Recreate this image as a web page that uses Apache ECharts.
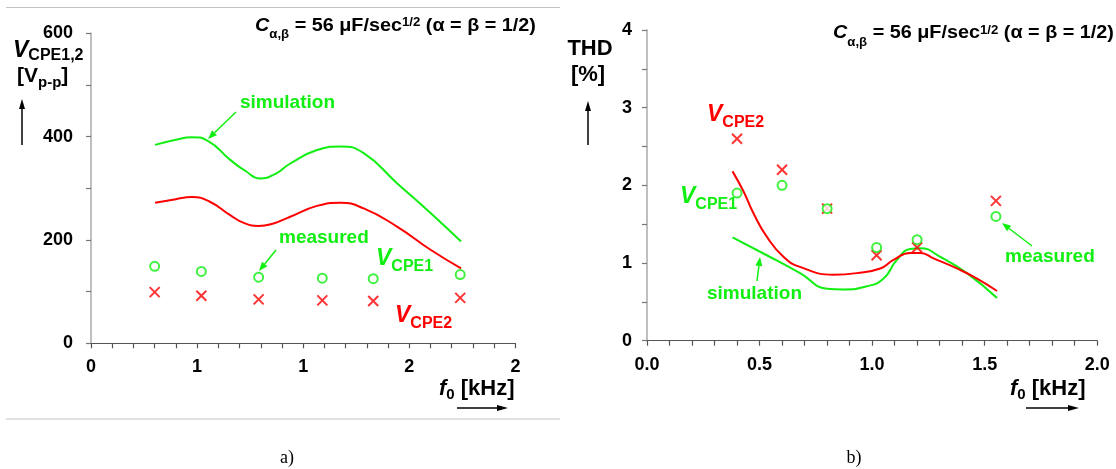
<!DOCTYPE html>
<html>
<head>
<meta charset="utf-8">
<script src="https://cdn.jsdelivr.net/npm/echarts@6/dist/echarts.min.js"></script>
<style>
html,body{margin:0;padding:0;background:#fff;}
#c{width:1116px;height:469px;}
</style>
</head>
<body>
<div id="c"></div>
<script>
// ---------- data (a) ----------
const leftMeasX = [0.30, 0.52, 0.79, 1.09, 1.33, 1.74];
const leftVcpe1 = [149, 139, 128, 126, 125, 133];
const leftVcpe2 = [99, 92, 85, 83, 82, 88];
const leftSim1X = [0.302, 0.40, 0.475, 0.55, 0.656, 0.73, 0.797, 0.87, 0.939, 1.065, 1.175, 1.285, 1.442, 1.600, 1.744];
const leftSim1Y = [384, 394, 399, 392, 355, 333, 319, 328, 348, 374, 381, 368, 310, 252, 197];
const leftSim2X = [0.302, 0.40, 0.475, 0.56, 0.656, 0.72, 0.789, 0.86, 0.939, 1.065, 1.175, 1.285, 1.442, 1.600, 1.744];
const leftSim2Y = [272, 279, 283, 274, 248, 233, 227, 232, 245, 266, 272, 261, 226, 181, 145];
const leftXTickLabels = ['0', '1', '1', '2', '2'];

// ---------- data (b) ----------
const rightMeasX = [0.40, 0.60, 0.80, 1.02, 1.20, 1.55];
const thdVcpe1 = [1.9, 2.0, 1.7, 1.2, 1.3, 1.6];
const thdVcpe2 = [2.6, 2.2, 1.7, 1.1, 1.2, 1.8];
const rightSim1X = [0.380, 0.532, 0.680, 0.799, 0.873, 0.977, 1.051, 1.110, 1.169, 1.214, 1.303, 1.421, 1.555];
const rightSim1Y = [1.33, 1.10, 0.87, 0.67, 0.66, 0.70, 0.80, 1.04, 1.18, 1.19, 1.08, 0.87, 0.55];
const rightSim2X = [0.380, 0.429, 0.473, 0.532, 0.606, 0.680, 0.828, 0.932, 1.036, 1.095, 1.169, 1.214, 1.273, 1.377, 1.466, 1.555];
const rightSim2Y = [2.18, 1.92, 1.64, 1.34, 1.08, 0.95, 0.85, 0.87, 0.93, 1.04, 1.13, 1.13, 1.06, 0.93, 0.80, 0.64];
const rightXTickLabels = ['0.0', '0.5', '1.0', '1.5', '2.0'];

// ---------- style ----------
const F = '"Liberation Sans", Arial, sans-serif';
const GREEN = '#11ee11';
const RED = '#ff0000';
const CROSS = 'path://M0,0L10,10M10,0L0,10';

const zip = (xs, ys) => xs.map((x, i) => [x, ys[i]]);

function axisX(grid, labels) {
  return {
    gridIndex: grid, type: 'value', min: 0, max: 2, interval: 0.5,
    axisLine: { show: true, onZero: false, lineStyle: { color: '#555', width: 1.2 } },
    axisTick: { show: true, length: 5, lineStyle: { color: '#555', width: 1.2 } },
    minorTick: { show: true, splitNumber: 5, length: 5, lineStyle: { color: '#555', width: 1.2 } },
    splitLine: { show: false }, minorSplitLine: { show: false },
    axisLabel: {
      formatter: v => labels[Math.round(v / 0.5)],
      fontFamily: F, fontWeight: 'bold', fontSize: 18, color: '#000', margin: 15
    }
  };
}
function axisY(grid, max, interval, margin) {
  return {
    gridIndex: grid, type: 'value', min: 0, max: max, interval: interval,
    axisLine: { show: true, onZero: false, lineStyle: { color: '#aaa', width: 1.5 } },
    axisTick: { show: true, length: 5, lineStyle: { color: '#777', width: 1.2 } },
    minorTick: { show: true, splitNumber: 2, length: 5, lineStyle: { color: '#777', width: 1.2 } },
    splitLine: { show: false }, minorSplitLine: { show: false },
    axisLabel: { fontFamily: F, fontWeight: 'bold', fontSize: 18, color: '#000', margin: margin }
  };
}
function simLine(name, xi, data, color) {
  return {
    name, type: 'line', xAxisIndex: xi, yAxisIndex: xi, data, smooth: 0.5,
    showSymbol: false, symbol: 'none', lineStyle: { color, width: 2 }, z: 2, silent: true
  };
}
function circles(name, xi, data) {
  return {
    name, type: 'scatter', xAxisIndex: xi, yAxisIndex: xi, data, symbol: 'emptyCircle', symbolSize: 9,
    itemStyle: { color: GREEN, borderColor: GREEN, borderWidth: 2 }, z: 4
  };
}
function crosses(name, xi, data) {
  return {
    name, type: 'scatter', xAxisIndex: xi, yAxisIndex: xi, data, symbol: CROSS, symbolSize: 10,
    itemStyle: { color: 'none', borderColor: RED, borderWidth: 2 }, z: 3
  };
}

// ---------- graphics helpers ----------
function arrow(x1, y1, x2, y2, color, len, w) {
  len = len || 9; w = w || 3;
  const dx = x2 - x1, dy = y2 - y1, L = Math.hypot(dx, dy);
  const ux = dx / L, uy = dy / L;
  const bx = x2 - ux * len, by = y2 - uy * len;
  return [
    { type: 'line', shape: { x1, y1, x2: bx, y2: by }, style: { stroke: color, lineWidth: 1.5 }, z: 10 },
    { type: 'polygon', shape: { points: [[x2, y2], [bx - uy * w, by + ux * w], [bx + uy * w, by - ux * w]] }, style: { fill: color }, z: 10 }
  ];
}
function tok(size, color, italic, extra) {
  return Object.assign({ fontSize: size, fontWeight: 'bold', fontStyle: italic ? 'italic' : 'normal', fontFamily: F, fill: color, color: color }, extra || {});
}
function rich(x, y, text, richDef, extra) {
  return Object.assign({ type: 'text', x, y, z: 10, style: { text, rich: richDef, fill: '#000', font: 'bold 16px ' + F, align: 'left', verticalAlign: 'top' } }, extra || {});
}
function plain(x, y, text, size, color, opts) {
  return { type: 'text', x, y, z: 10, style: Object.assign({ text, fill: color, fontSize: size, fontWeight: 'bold', fontFamily: F, align: 'left', verticalAlign: 'middle' }, opts || {}) };
}
// main token top-aligned: centre = top + size/2 ; sub bottom-aligned: centre = top + L - subSize/2
function titleText(x, y) {
  return rich(x, y, '{c|C}{s|α,β}{m| = 56 μF/sec}{p|1/2}{m| (α = β = 1/2)}', {
    c: tok(18, '#000', true, { lineHeight: 24, verticalAlign: 'top' }),
    m: tok(18, '#000', false, { lineHeight: 24, verticalAlign: 'top' }),
    s: tok(12, '#000', false, { verticalAlign: 'bottom' }),
    p: tok(12, '#000', false, { verticalAlign: 'top' })
  }, { scaleX: 1.1 });
}
function vcpe(x, y, sub, color) {
  return rich(x, y, '{v|V}{s|' + sub + '}', {
    v: tok(23, color, true, { lineHeight: 27.5, verticalAlign: 'top' }),
    s: tok(16, color, false, { verticalAlign: 'bottom' })
  });
}
function fLabel(x, y) {
  return rich(x, y, '{f|f}{s|0}{m| [kHz]}', {
    f: tok(22, '#000', true, { lineHeight: 24.5, verticalAlign: 'top' }),
    s: tok(15, '#000', false, { verticalAlign: 'bottom' }),
    m: tok(22, '#000', false, { lineHeight: 24.5, verticalAlign: 'top' })
  });
}

const graphics = [].concat(
  // separators of panel a
  [{ type: 'line', shape: { x1: 6, y1: 7.5, x2: 560, y2: 7.5 }, style: { stroke: '#c4c4c4', lineWidth: 1.2 } },
   { type: 'line', shape: { x1: 6, y1: 419, x2: 560, y2: 419 }, style: { stroke: '#c4c4c4', lineWidth: 1.2 } }],
  // titles
  [titleText(255, 16.8), titleText(833, 24.3)],
  // left y label
  [rich(13, 39, '{v|V}{s|CPE1,2}', {
      v: tok(23, '#000', true, { lineHeight: 24.5, verticalAlign: 'top' }),
      s: tok(16, '#000', false, { verticalAlign: 'bottom' })
    }),
   rich(17, 66, '{m|[V}{s|p-p}{m|]}', {
      m: tok(21, '#000', false, { lineHeight: 24, verticalAlign: 'top' }),
      s: tok(15, '#000', false, { verticalAlign: 'bottom' })
    })],
  arrow(22, 145, 22, 99, '#000', 10, 3),
  // right y label
  [plain(590, 48.5, 'THD', 22, '#000', { align: 'center' }),
   plain(588, 75, '[%]', 22, '#000', { align: 'center' })],
  arrow(588, 145, 588, 101, '#000', 10, 3),
  // x labels
  [fLabel(439, 378), fLabel(1010, 378)],
  arrow(457, 408, 508, 408, '#000', 11, 3),
  arrow(1026, 408, 1079, 408, '#000', 11, 3),
  // panel captions
  [plain(287, 458, 'a)', 18, '#000', { align: 'center', fontWeight: 'normal', fontFamily: '"Liberation Serif", "Times New Roman", serif' }),
   plain(854, 458, 'b)', 18, '#000', { align: 'center', fontWeight: 'normal', fontFamily: '"Liberation Serif", "Times New Roman", serif' })],
  // annotations (a)
  [plain(240, 102.5, 'simulation', 19, GREEN), plain(279, 237.5, 'measured', 19, GREEN)],
  arrow(236, 112, 208, 139, GREEN, 9, 3.5),
  arrow(276, 250, 259, 271, GREEN, 9, 3.5),
  [vcpe(376, 246.9, 'CPE1', GREEN), vcpe(395, 304.4, 'CPE2', RED)],
  // annotations (b)
  [vcpe(707, 102.7, 'CPE2', RED), vcpe(680, 185, 'CPE1', GREEN)],
  [plain(707, 293.5, 'simulation', 19, GREEN), plain(1005, 256.7, 'measured', 19, GREEN)],
  arrow(757, 281, 760, 257, GREEN, 9, 3.5),
  arrow(1032, 246, 1002, 223, GREEN, 9, 3.5)
);

const chart = echarts.init(document.getElementById('c'), null, { renderer: 'canvas' });
chart.setOption({
  animation: false,
  backgroundColor: '#fff',
  grid: [
    { left: 91, right: 600.6, top: 33.3, bottom: 125.7 },
    { left: 647, right: 18.8, top: 30, bottom: 128.3 }
  ],
  xAxis: [axisX(0, leftXTickLabels), axisX(1, rightXTickLabels)],
  yAxis: [axisY(0, 600, 200, 18), axisY(1, 4, 1, 15)],
  series: [
    simLine('sim VCPE1 (a)', 0, zip(leftSim1X, leftSim1Y), GREEN),
    simLine('sim VCPE2 (a)', 0, zip(leftSim2X, leftSim2Y), RED),
    circles('meas VCPE1 (a)', 0, zip(leftMeasX, leftVcpe1)),
    crosses('meas VCPE2 (a)', 0, zip(leftMeasX, leftVcpe2)),
    simLine('sim VCPE1 (b)', 1, zip(rightSim1X, rightSim1Y), GREEN),
    simLine('sim VCPE2 (b)', 1, zip(rightSim2X, rightSim2Y), RED),
    crosses('meas VCPE2 (b)', 1, zip(rightMeasX, thdVcpe2)),
    circles('meas VCPE1 (b)', 1, zip(rightMeasX, thdVcpe1))
  ],
  graphic: { elements: graphics }
});
</script>
</body>
</html>
